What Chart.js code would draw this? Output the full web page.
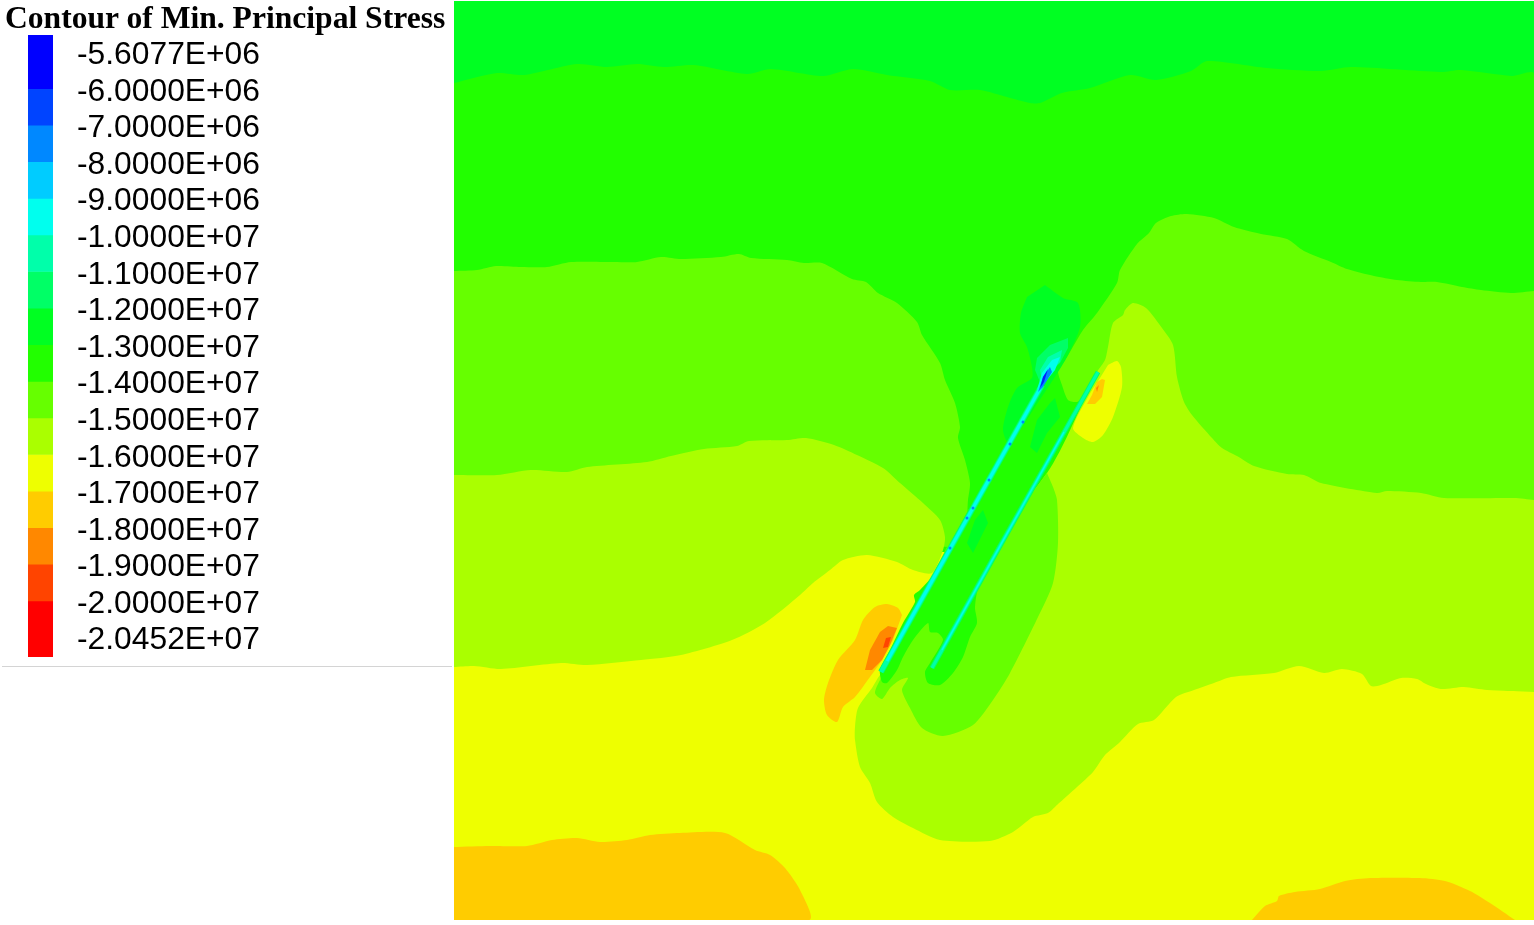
<!DOCTYPE html>
<html lang="en">
<head>
  <meta charset="UTF-8" />
  <title>Contour of Min. Principal Stress</title>
  <script src="https://cdn.jsdelivr.net/npm/chart.js"></script>
  <style>
    body { margin: 0; background: white; overflow: hidden; }
    #legendChart { position: absolute; left: 0; top: 0; }
    #fieldChart { position: absolute; left: 454px; top: 0; }
    #legendTitle {
      position: absolute; left: 5px; top: 0; white-space: nowrap;
      font: bold 31.6px "Liberation Serif", serif; line-height: 36px; color: black;
    }
    #legendRule { position: absolute; left: 2px; top: 666px; width: 450px; height: 1px; background: #d4d4d4; }
  </style>
</head>
<body>
  <canvas id="legendChart" width="454" height="662"></canvas>
  <div id="legendTitle">Contour of Min. Principal Stress</div>
  <div id="legendRule"></div>
  <canvas id="fieldChart" width="1080" height="920"></canvas>

  <script>
    // legend levels and the colour between each pair of levels
    const levelLabels = ['-5.6077E+06', '-6.0000E+06', '-7.0000E+06', '-8.0000E+06', '-9.0000E+06', '-1.0000E+07',
      '-1.1000E+07', '-1.2000E+07', '-1.3000E+07', '-1.4000E+07', '-1.5000E+07', '-1.6000E+07', '-1.7000E+07',
      '-1.8000E+07', '-1.9000E+07', '-2.0000E+07', '-2.0452E+07'];
    const cellColors = ['#0000ff', '#0044ff', '#0088ff', '#00ccff', '#00ffee', '#00ffaa', '#00ff66', '#00ff22',
      '#22ff00', '#66ff00', '#aaff00', '#eeff00', '#ffcc00', '#ff8800', '#ff4400', '#ff0000'];
    const cellFrom = [-0.555, 0.91, 1.91, 2.91, 3.91, 4.91, 5.91, 6.91, 7.91, 8.91, 9.91, 10.91, 11.91, 12.91, 13.91, 14.91];
    const cellTo = [0.91, 1.91, 2.91, 3.91, 4.91, 5.91, 6.91, 7.91, 8.91, 9.91, 10.91, 11.91, 12.91, 13.91, 14.91, 16.445];

    // contour outlines, x 454-1534, y 0-920 (down)
    const wholeField = [[454, 1], [1534, 1], [1534, 920], [454, 920]];
    const band22 = [[454, 83], [497, 73], [524, 75], [577, 64], [607, 67], [637, 64], [664, 67], [694, 65], [747, 74],
      [771, 69], [823, 76], [853, 69], [887, 75], [930, 81], [950, 90], [980, 90], [1007, 97], [1030, 103], [1040, 103],
      [1062, 93], [1090, 88], [1130, 75], [1156, 80], [1191, 71], [1207, 61], [1267, 68], [1321, 71], [1351, 67],
      [1441, 72], [1461, 70], [1512, 76], [1534, 74], [1534, 920], [454, 920]];
    const lowerYellow = [[454, 552], [1534, 552], [1534, 920], [454, 920]];
    const left66 = [[454, 271], [477, 270], [496, 266], [521, 267], [547, 267], [571, 262], [614, 262], [637, 262],
      [661, 257], [681, 259], [721, 257], [739, 254], [751, 258], [787, 260], [804, 263], [822, 263], [852, 279],
      [866, 282], [878, 293], [897, 303], [917, 322], [922, 335], [940, 363], [945, 380], [955, 403], [960, 427],
      [958, 438], [965, 460], [970, 483], [968, 500], [966, 520], [950, 547], [454, 500]];
    const right66 = [[1534, 291], [1511, 293], [1481, 290], [1462, 287], [1437, 282], [1421, 282], [1397, 280],
      [1374, 276], [1347, 269], [1331, 262], [1304, 251], [1287, 239], [1261, 234], [1234, 227], [1214, 218],
      [1187, 214], [1171, 216], [1156, 223], [1149, 233], [1137, 244], [1120, 270], [1117, 283], [1097, 313],
      [1083, 330], [1067, 357], [1058, 370], [1062, 385], [1068, 400], [1077, 402], [1083, 397], [1097, 372],
      [1110, 500], [1534, 510]];
    const leftAa = [[454, 475], [497, 475], [531, 470], [567, 472], [587, 467], [647, 462], [671, 456], [704, 449],
      [737, 446], [749, 441], [787, 440], [806, 438], [834, 445], [857, 455], [883, 468], [900, 483], [923, 503],
      [940, 520], [945, 537], [943, 550], [932, 573], [913, 570], [897, 562], [867, 555], [843, 560], [830, 570],
      [813, 583], [800, 595], [765, 623], [732, 640], [681, 655], [641, 660], [587, 665], [561, 663], [501, 669],
      [474, 666], [454, 667]];
    const rightAa = [[1534, 500], [1514, 498], [1444, 498], [1421, 493], [1387, 491], [1377, 493], [1321, 483],
      [1304, 475], [1287, 474], [1254, 466], [1237, 456], [1222, 448], [1212, 438], [1192, 415], [1184, 402],
      [1177, 377], [1173, 345], [1162, 328], [1146, 308], [1133, 303], [1125, 310], [1123, 315], [1113, 323],
      [1108, 347], [1105, 360], [1097, 372], [1047, 473], [880, 675], [872, 688], [858, 708], [855, 727], [855, 740],
      [860, 767], [870, 783], [877, 802], [893, 817], [913, 828], [940, 840], [990, 841], [1013, 832], [1033, 817],
      [1048, 813], [1057, 805], [1077, 787], [1093, 772], [1105, 755], [1120, 742], [1138, 724], [1154, 720],
      [1176, 697], [1194, 690], [1214, 683], [1231, 677], [1274, 673], [1299, 666], [1324, 673], [1342, 669],
      [1362, 674], [1371, 686], [1381, 685], [1401, 678], [1417, 679], [1426, 684], [1441, 689], [1464, 687],
      [1487, 690], [1534, 692]];
    const tongue66 = [[1047, 473], [1053, 487], [1057, 500], [1058, 543], [1053, 583], [1038, 617], [1010, 673],
      [993, 700], [973, 725], [943, 736], [922, 728], [910, 708], [902, 690], [908, 678], [900, 680], [890, 688],
      [882, 699], [875, 693], [880, 680], [933, 575], [977, 500], [1027, 500]];
    const middle22 = [[979, 490], [933, 575], [920, 590], [914, 595], [915, 602], [903, 623], [890, 650], [880, 670],
      [882, 682], [887, 683], [897, 670], [903, 657], [913, 640], [928, 623], [930, 632], [938, 633], [943, 640],
      [930, 663], [925, 672], [928, 683], [940, 685], [953, 673], [963, 657], [970, 637], [977, 623], [975, 607],
      [980, 580], [1003, 537], [1033, 490]];
    const bottomLeftOrange = [[454, 847], [490, 846], [527, 846], [552, 840], [577, 838], [600, 842], [627, 840],
      [650, 835], [680, 833], [725, 833], [755, 850], [770, 855], [785, 868], [800, 890], [809, 920], [454, 920]];
    const bottomRightOrange = [[1252, 920], [1265, 906], [1277, 901], [1279, 896], [1295, 892], [1320, 889],
      [1345, 881], [1370, 878], [1420, 878], [1445, 881], [1470, 891], [1490, 903], [1515, 920]];
    const rightTipYellow = [[1108, 365], [1117, 361], [1121, 367], [1122, 387], [1113, 417], [1103, 435], [1093, 442],
      [1083, 438], [1073, 428], [1088, 397], [1100, 378]];
    const rightTipOrange = [[1102, 379], [1105, 380], [1102, 397], [1095, 404], [1087, 404], [1092, 395], [1097, 382]];
    const rightTipDeep = [[1096, 388], [1099, 385], [1097, 392]];
    const leftTipOrange = [[902, 615], [898, 608], [887, 604], [875, 607], [863, 620], [855, 640], [838, 660],
      [828, 683], [824, 700], [827, 715], [837, 722], [843, 707], [855, 697], [870, 677], [882, 660], [893, 640]];
    const leftTipDeep = [[897, 628], [888, 626], [880, 632], [870, 650], [865, 670], [872, 670], [882, 660], [890, 645]];
    const leftTipRed = [[891, 637], [886, 638], [883, 648], [888, 647]];
    const topBlob = [[1045, 285], [1063, 298], [1078, 303], [1080, 327], [1067, 357], [1058, 372], [1043, 395],
      [1009, 443], [1003, 430], [1008, 407], [1017, 388], [1032, 378], [1032, 367], [1027, 347], [1020, 333],
      [1021, 313], [1027, 297]];
    const innerPatchUpper = [[1055, 398], [1060, 417], [1047, 433], [1037, 453], [1030, 447], [1037, 420], [1050, 403]];
    const innerPatchLower = [[983, 510], [988, 523], [973, 553], [967, 543], [975, 520]];
    const crackHaloOuter = [[1068, 338], [1050, 345], [1037, 358], [1035, 370], [1040, 382], [1060, 363], [1068, 348]];
    const crackHaloInner = [[1062, 350], [1048, 357], [1040, 370], [1042, 380], [1060, 362]];
    const crackCyan = [[1060, 357], [1052, 360], [1042, 373], [1037, 390], [1043, 385], [1055, 370]];
    const crackBlue = [[1050, 367], [1043, 377], [1038, 392], [1043, 387], [1052, 372]];
    const crackDeep = [[1048, 369], [1043, 377], [1040, 388], [1044, 382]];

    // the two cracks
    const leftCrack = [[1042, 385], [881, 672]];
    const leftCrackCore = [[1042, 385], [887, 661]];
    const rightCrack = [[1098, 372], [1000, 546], [932, 668]];
    const rightCrackCore = [[1064, 432], [1000, 546], [942, 650]];
    const crackSpots = [[1023, 422], [1010, 444], [989, 480], [973, 508], [967, 518], [950, 548]];

    const toPoints = list => list.map(([x, y]) => ({ x, y }));

    // back to front
    const fieldLayers = [
      [wholeField, '#00ff22'], [band22, '#22ff00'], [lowerYellow, '#eeff00'], [left66, '#66ff00'], [right66, '#66ff00'],
      [leftAa, '#aaff00'], [rightAa, '#aaff00'], [tongue66, '#66ff00'], [middle22, '#22ff00'],
      [bottomLeftOrange, '#ffcc00'], [bottomRightOrange, '#ffcc00'],
      [rightTipYellow, '#eeff00'], [rightTipOrange, '#ffcc00'], [rightTipDeep, '#ff8800'],
      [leftTipOrange, '#ffcc00'], [leftTipDeep, '#ff8800'], [leftTipRed, '#ff4400'],
      [topBlob, '#00ff22'], [innerPatchUpper, '#00ff22'], [innerPatchLower, '#00ff22'],
      [crackHaloOuter, '#00ff66'], [crackHaloInner, '#00ffaa']
    ];
    const topLayers = [[crackCyan, '#00ffee'], [crackBlue, '#0088ff'], [crackDeep, '#0022ff']];

    const shape = ([list, color]) => ({
      data: toPoints(list), showLine: true, fill: 'shape', backgroundColor: color,
      borderWidth: 0, pointRadius: 0, tension: list.length > 8 ? 0.25 : 0
    });
    const stroke = (list, color, width) => ({
      data: toPoints(list), showLine: true, fill: false, borderColor: color,
      borderWidth: width, pointRadius: 0, tension: 0
    });

    const fieldSets = [
      ...fieldLayers.map(shape),
      stroke(leftCrack, '#00ff66', 6),
      stroke(leftCrack, '#00ffaa', 4.5),
      stroke(leftCrackCore, '#00ffee', 3),
      stroke(rightCrack, '#00ff66', 5),
      stroke(rightCrack, '#00ffaa', 3),
      stroke(rightCrackCore, '#00ffee', 1.5),
      ...topLayers.map(shape),
      { data: toPoints(crackSpots), pointRadius: 1.5, backgroundColor: '#0088ff', borderWidth: 0 }
    ].reverse(); // chart.js paints the first dataset last

    new Chart(document.getElementById('fieldChart'), {
      type: 'scatter',
      data: { datasets: fieldSets },
      options: {
        responsive: false,
        animation: false,
        layout: { padding: 0, autoPadding: false },
        plugins: { legend: { display: false }, title: { display: false }, tooltip: { enabled: false } },
        scales: {
          x: { type: 'linear', min: 454, max: 1534, display: false },
          y: { type: 'linear', min: 0, max: 920, reverse: true, display: false }
        }
      }
    });

    new Chart(document.getElementById('legendChart'), {
      type: 'bar',
      data: {
        labels: ['Stress'],
        datasets: cellColors.map((color, i) => ({
          data: [[cellFrom[i], cellTo[i]]],
          backgroundColor: color,
          grouped: false,
          barPercentage: 1,
          categoryPercentage: 1
        }))
      },
      options: {
        responsive: false,
        animation: false,
        layout: { padding: { left: 28, top: 35, bottom: 5, right: 0 }, autoPadding: false },
        plugins: { legend: { display: false }, title: { display: false }, tooltip: { enabled: false } },
        scales: {
          x: { display: false },
          y: {
            position: 'right',
            reverse: true,
            min: -0.555,
            max: 16.445,
            grid: { display: false, drawTicks: false },
            border: { display: false },
            afterBuildTicks: scale => { scale.ticks = levelLabels.map((_, i) => ({ value: i })); },
            afterFit: scale => {
              scale.width = 401;
              scale.paddingTop = 0;
              scale.paddingBottom = 0;
            },
            ticks: {
              autoSkip: false,
              padding: 24,
              color: '#000',
              font: { family: '"Liberation Sans", Arial, sans-serif', size: 31.8 },
              callback: value => levelLabels[value]
            }
          }
        }
      }
    });
  </script>
</body>
</html>
